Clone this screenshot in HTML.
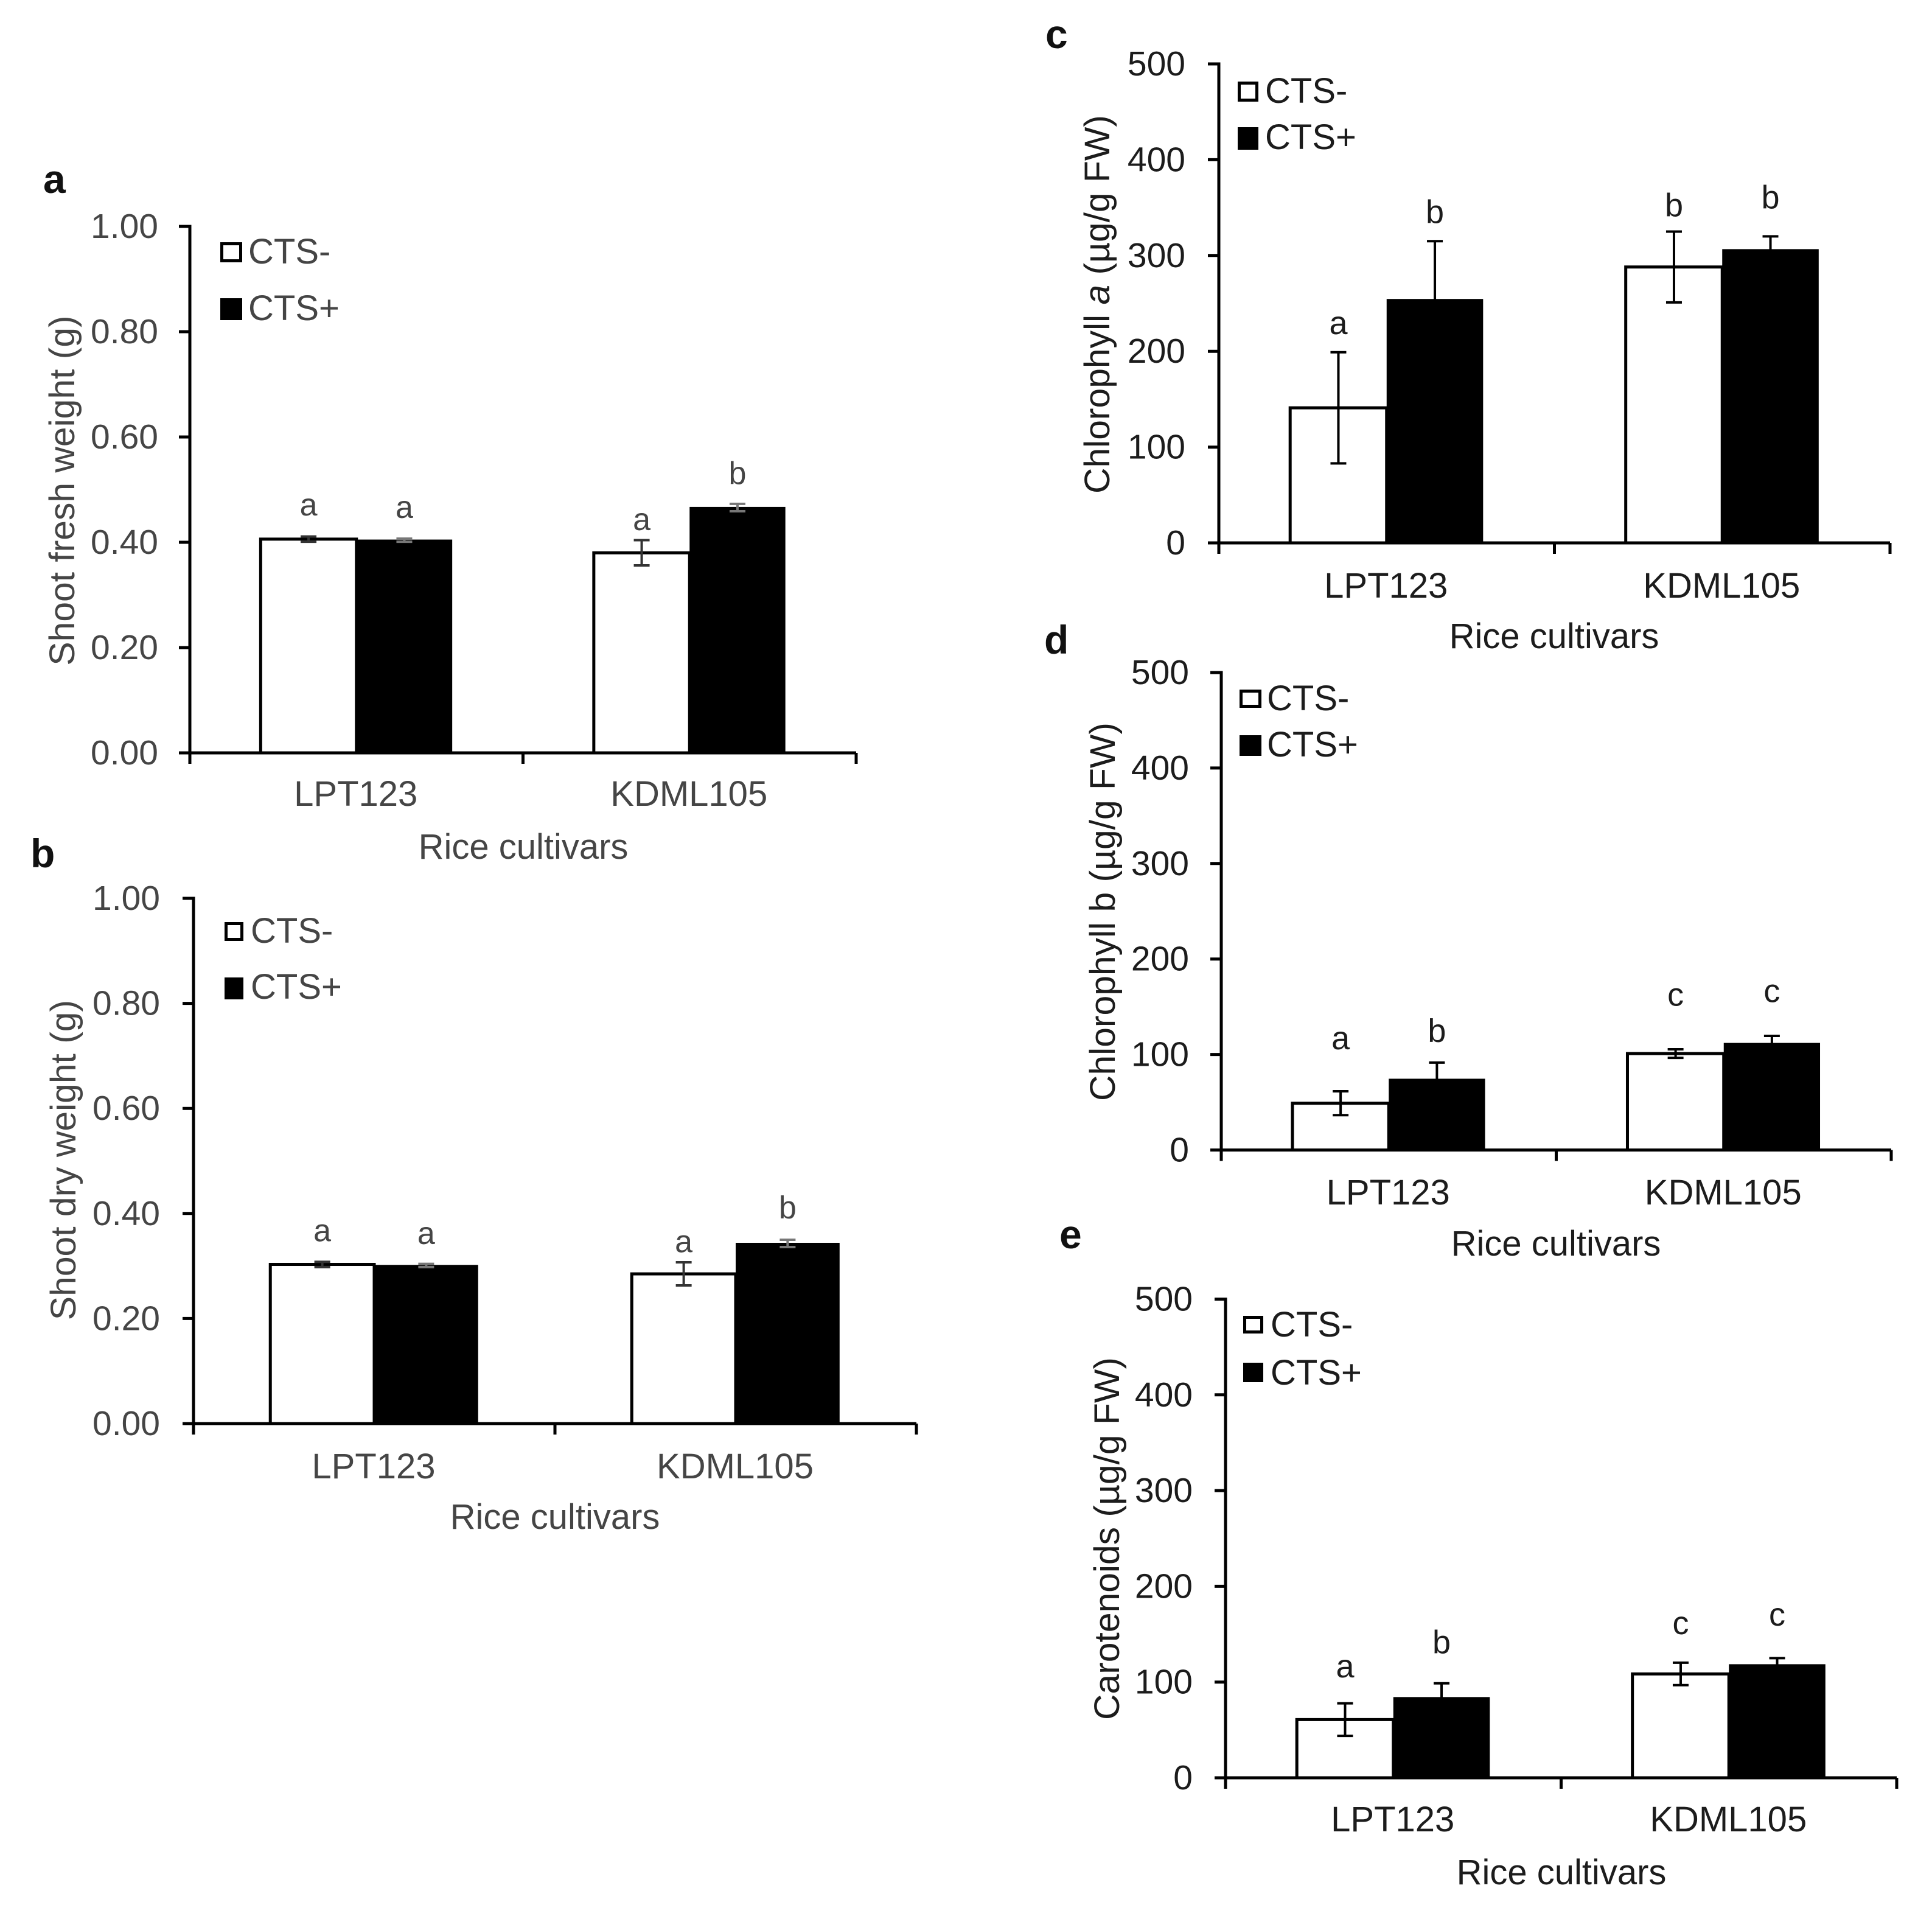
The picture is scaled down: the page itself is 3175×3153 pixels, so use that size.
<!DOCTYPE html>
<html lang="en">
<head>
<meta charset="utf-8">
<title>Rice cultivar shoot weight and pigment charts</title>
<style>
html,body{margin:0;padding:0;background:#fff;}
svg{display:block;font-family:"Liberation Sans",Arial,sans-serif;}
.pl{font-weight:700;font-size:66px;fill:#111;}
.t{font-size:58px;}
.yt{font-size:58.8px;}
.gr text{fill:#454545;}
.dk text{fill:#1c1c1c;}
</style>
</head>
<body>
<svg id="figure" xmlns="http://www.w3.org/2000/svg" width="3175" height="3153" viewBox="0 0 3175 3153">
<rect width="3175" height="3153" fill="#fff"/>

<g id="panel-a" class="gr">
  <text class="pl" x="71" y="317" style="fill:#111">a</text>
  <text class="yt" transform="translate(122,806) rotate(-90)" text-anchor="middle">Shoot fresh weight (g)</text>
  <text class="t" x="860" y="1411" text-anchor="middle">Rice cultivars</text>
  <rect x="364.5" y="400.5" width="31" height="28" fill="#fff" stroke="#000" stroke-width="5"/>
  <text class="t" x="408" y="433">CTS-</text>
  <rect x="362" y="490" width="36" height="36" fill="#000"/>
  <text class="t" x="408" y="526">CTS+</text>
</g>

<g id="panel-b" class="gr">
  <text class="pl" x="50" y="1425" style="fill:#111">b</text>
  <text class="yt" transform="translate(124,1906) rotate(-90)" text-anchor="middle">Shoot dry weight (g)</text>
  <text class="t" x="912" y="2512" text-anchor="middle">Rice cultivars</text>
  <rect x="371.5" y="1517.5" width="26" height="26" fill="#fff" stroke="#000" stroke-width="5"/>
  <text class="t" x="412" y="1549">CTS-</text>
  <rect x="369" y="1606" width="31" height="36" fill="#000"/>
  <text class="t" x="412" y="1641">CTS+</text>
</g>

<g id="panel-c" class="dk">
  <text class="pl" x="1718" y="79" style="fill:#111">c</text>
  <text class="yt" transform="translate(1823,500) rotate(-90)" text-anchor="middle">Chlorophyll <tspan font-style="italic">a</tspan> (µg/g FW)</text>
  <text class="t" x="2554" y="1065" text-anchor="middle">Rice cultivars</text>
  <rect x="2036.5" y="136.5" width="29" height="28" fill="#fff" stroke="#000" stroke-width="5"/>
  <text class="t" x="2079" y="169">CTS-</text>
  <rect x="2034" y="209" width="34" height="37" fill="#000"/>
  <text class="t" x="2079" y="245">CTS+</text>
</g>

<g id="panel-d" class="dk">
  <text class="pl" x="1716" y="1074" style="fill:#111">d</text>
  <text class="yt" transform="translate(1832,1498) rotate(-90)" text-anchor="middle">Chlorophyll b (µg/g FW)</text>
  <text class="t" x="2557" y="2063" text-anchor="middle">Rice cultivars</text>
  <rect x="2039.5" y="1135.5" width="31" height="25" fill="#fff" stroke="#000" stroke-width="5"/>
  <text class="t" x="2082" y="1167">CTS-</text>
  <rect x="2037" y="1208" width="36" height="34" fill="#000"/>
  <text class="t" x="2082" y="1243">CTS+</text>
</g>

<g id="panel-e" class="dk">
  <text class="pl" x="1741" y="2051" style="fill:#111">e</text>
  <text class="yt" transform="translate(1839,2528) rotate(-90)" text-anchor="middle">Carotenoids (µg/g FW)</text>
  <text class="t" x="2566" y="3096" text-anchor="middle">Rice cultivars</text>
  <rect x="2045.5" y="2164.5" width="28" height="24" fill="#fff" stroke="#000" stroke-width="5"/>
  <text class="t" x="2088" y="2196">CTS-</text>
  <rect x="2043" y="2239" width="33" height="32" fill="#000"/>
  <text class="t" x="2088" y="2275">CTS+</text>
</g>
</svg>

<script>
const categories = ['LPT123', 'KDML105'];
const seriesNames = ['cts-minus', 'cts-plus'];

const weightTicks = ['0.00', '0.20', '0.40', '0.60', '0.80', '1.00'];
const pigmentTicks = ['0', '100', '200', '300', '400', '500'];

const aMinus = [0.406, 0.380];
const aPlus = [0.404, 0.466];
const aMinusErr = [0.005, 0.024];
const aPlusErr = [0.003, 0.007];
const aMinusLetters = ['a', 'a'];
const aPlusLetters = ['a', 'b'];
const aMinusLetterLevel = [0.451, 0.423];
const aPlusLetterLevel = [0.446, 0.511];

const bMinus = [0.303, 0.285];
const bPlus = [0.301, 0.343];
const bMinusErr = [0.005, 0.022];
const bPlusErr = [0.003, 0.007];
const bMinusLetters = ['a', 'a'];
const bPlusLetters = ['a', 'b'];
const bMinusLetterLevel = [0.347, 0.326];
const bPlusLetterLevel = [0.342, 0.391];

const cMinus = [141, 288];
const cPlus = [254, 306];
const cMinusErr = [58, 37];
const cPlusErr = [61, 14];
const cMinusLetters = ['a', 'b'];
const cPlusLetters = ['b', 'b'];
const cMinusLetterLevel = [218, 341];
const cPlusLetterLevel = [334, 349];

const dMinus = [49, 101];
const dPlus = [74, 111.5];
const dMinusErr = [12.5, 4.5];
const dPlusErr = [17.5, 8];
const dMinusLetters = ['a', 'c'];
const dPlusLetters = ['b', 'c'];
const dMinusLetterLevel = [105.5, 151];
const dPlusLetterLevel = [113, 155];

const eMinus = [60.8, 108.5];
const ePlus = [83.7, 118];
const eMinusErr = [17, 11.7];
const ePlusErr = [15, 7];
const eMinusLetters = ['a', 'c'];
const ePlusLetters = ['b', 'c'];
const eMinusLetterLevel = [105, 150];
const ePlusLetterLevel = [130, 159];

const SVGNS = 'http://www.w3.org/2000/svg';

function make(parent, tag, attrs, text) {
  const el = document.createElementNS(SVGNS, tag);
  for (const k in attrs) el.setAttribute(k, attrs[k]);
  if (text !== undefined) el.textContent = text;
  parent.appendChild(el);
  return el;
}

function drawPanel(o) {
  const root = document.getElementById('panel-' + o.id);
  const tickVals = o.ticks.map(Number);
  const yMax = Math.max.apply(null, tickVals);
  const y = v => o.y0 - (v / yMax) * (o.y0 - o.yTop);
  const band = (o.xEnd - o.x0) / categories.length;
  const barW = band * 0.2875;
  const cx = i => o.x0 + band * (i + 0.5);

  categories.forEach(function (cat, i) {
    const c = cx(i);

    const wTop = y(o.minus[i]);
    const wRect = make(root, 'rect', {x: c - barW, y: wTop, width: barW, height: o.y0 - wTop, fill: '#fff', stroke: '#000', 'stroke-width': 5});
    
    

    const kTop = y(o.plus[i]);
    const kRect = make(root, 'rect', {x: c, y: kTop - 1, width: barW, height: o.y0 - kTop + 1, fill: '#000'});
    
    

    const sets = [
      {v: o.minus[i], e: o.minusErr[i], x: c - barW / 2, col: o.errMinus, l: o.minusLetters[i], lv: o.minusLevel[i], s: seriesNames[0]},
      {v: o.plus[i], e: o.plusErr[i], x: c + barW / 2, col: o.errPlus, l: o.plusLetters[i], lv: o.plusLevel[i], s: seriesNames[1]}
    ];
    sets.forEach(function (s) {
      const hi = y(s.v + s.e), lo = y(s.v - s.e);
      const capW = 13;
      const eb = make(root, 'path', {
        d: 'M' + (s.x - capW) + ' ' + hi + 'H' + (s.x + capW) + 'M' + s.x + ' ' + hi + 'V' + lo + 'M' + (s.x - capW) + ' ' + lo + 'H' + (s.x + capW),
        fill: 'none', stroke: s.col, 'stroke-width': 4
      });
      
      

      const lt = make(root, 'text', {x: s.x, y: y(s.lv), 'text-anchor': 'middle', 'font-size': o.letterSize}, s.l);
      
      
    });
  });

  const yAxis = make(root, 'path', {d: 'M' + o.x0 + ' ' + (o.yTop - 2.5) + 'V' + (o.y0 + 18), fill: 'none', stroke: '#000', 'stroke-width': 5});
  
  

  const xAxis = make(root, 'path', {d: 'M' + (o.x0 - 18) + ' ' + o.y0 + 'H' + o.xEnd, fill: 'none', stroke: '#000', 'stroke-width': 5});
  
  

  o.ticks.forEach(function (label, i) {
    const ty = y(tickVals[i]);
    const tm = make(root, 'line', {x1: o.x0 - 18, x2: o.x0, y1: ty, y2: ty, stroke: '#000', 'stroke-width': 5});
    
    
    const tl = make(root, 'text', {x: o.x0 - o.labelGap, y: ty + 19, 'text-anchor': 'end', 'font-size': 57}, label);
    
    
  });

  for (let i = 0; i <= categories.length; i++) {
    const tx = o.x0 + band * i;
    const xm = make(root, 'line', {x1: tx, x2: tx, y1: o.y0, y2: o.y0 + 18, stroke: '#000', 'stroke-width': 5});
    
    
  }

  categories.forEach(function (cat, i) {
    const cl = make(root, 'text', {x: cx(i) - 1, y: o.catBase, 'text-anchor': 'middle', 'font-size': 58}, cat);
    
    
  });
}

drawPanel({id: 'a', ticks: weightTicks, x0: 312, xEnd: 1407, yTop: 372, y0: 1237, labelGap: 52, catBase: 1324, letterSize: 52,
  errMinus: '#333', errPlus: '#777',
  minus: aMinus, plus: aPlus, minusErr: aMinusErr, plusErr: aPlusErr,
  minusLetters: aMinusLetters, plusLetters: aPlusLetters, minusLevel: aMinusLetterLevel, plusLevel: aPlusLetterLevel});

drawPanel({id: 'b', ticks: weightTicks, x0: 318, xEnd: 1506, yTop: 1476, y0: 2339, labelGap: 55, catBase: 2429, letterSize: 52,
  errMinus: '#333', errPlus: '#777',
  minus: bMinus, plus: bPlus, minusErr: bMinusErr, plusErr: bPlusErr,
  minusLetters: bMinusLetters, plusLetters: bPlusLetters, minusLevel: bMinusLetterLevel, plusLevel: bPlusLetterLevel});

drawPanel({id: 'c', ticks: pigmentTicks, x0: 2003, xEnd: 3106, yTop: 105, y0: 892, labelGap: 55, catBase: 982, letterSize: 54,
  errMinus: '#000', errPlus: '#000',
  minus: cMinus, plus: cPlus, minusErr: cMinusErr, plusErr: cPlusErr,
  minusLetters: cMinusLetters, plusLetters: cPlusLetters, minusLevel: cMinusLetterLevel, plusLevel: cPlusLetterLevel});

drawPanel({id: 'd', ticks: pigmentTicks, x0: 2007, xEnd: 3108, yTop: 1105, y0: 1889.5, labelGap: 53, catBase: 1979, letterSize: 54,
  errMinus: '#000', errPlus: '#000',
  minus: dMinus, plus: dPlus, minusErr: dMinusErr, plusErr: dPlusErr,
  minusLetters: dMinusLetters, plusLetters: dPlusLetters, minusLevel: dMinusLetterLevel, plusLevel: dPlusLetterLevel});

drawPanel({id: 'e', ticks: pigmentTicks, x0: 2014, xEnd: 3117, yTop: 2134.5, y0: 2921, labelGap: 54, catBase: 3009, letterSize: 54,
  errMinus: '#000', errPlus: '#000',
  minus: eMinus, plus: ePlus, minusErr: eMinusErr, plusErr: ePlusErr,
  minusLetters: eMinusLetters, plusLetters: ePlusLetters, minusLevel: eMinusLetterLevel, plusLevel: ePlusLetterLevel});
</script>
</body>
</html>
